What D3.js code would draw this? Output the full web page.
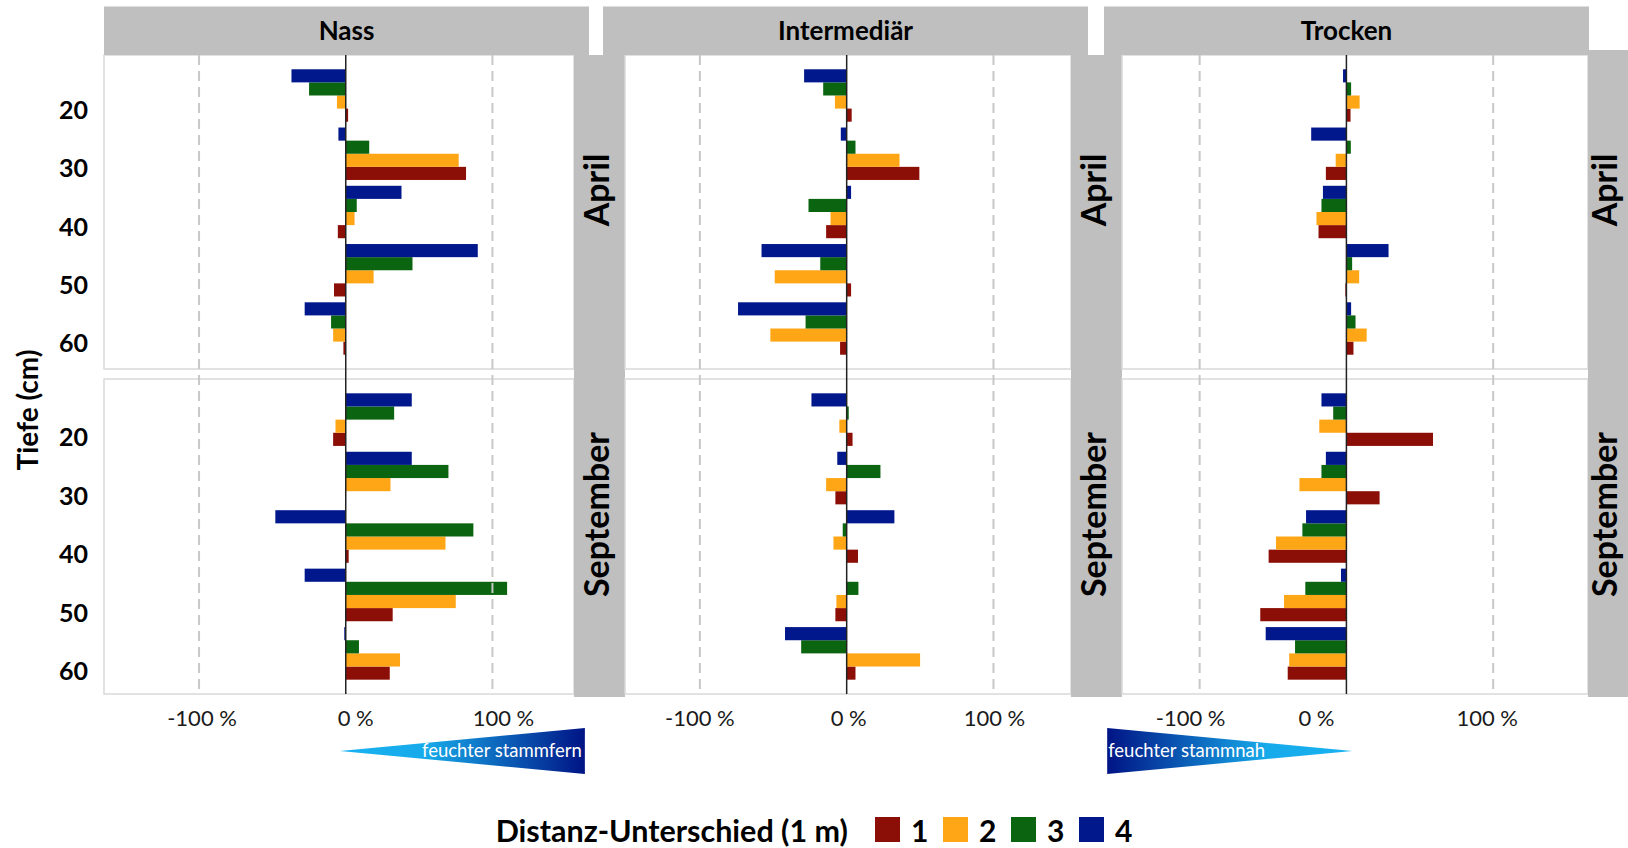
<!DOCTYPE html>
<html>
<head>
<meta charset="utf-8">
<script src="https://cdn.jsdelivr.net/npm/d3@7"></script>
<style>
  body { margin: 0; background: #fff; }
  text { font-family: Lato, "Open Sans", sans-serif; }
</style>
</head>
<body>
<div id="chart"></div>
<script>
// categories
var sites = ["Nass", "Intermediär", "Trocken"];
var months = ["April", "September"];
var distances = [1, 2, 3, 4];
var depths = [17.5, 27.5, 37.5, 47.5, 57.5];   // middle of each depth group (cm)
var depthTicks = [20, 30, 40, 50, 60];
var xTicks = [-100, 0, 100];

// values in %, one row per depth group, columns = distance 1..4
var nassApril = [
  [1.6, -6, -25, -37],
  [82, 77, 16, -5],
  [-5.4, 6, 7.5, 38],
  [-8, 19, 45.5, 90],
  [-1.6, -8.6, -10, -28]
];
var nassSeptember = [
  [-8.6, -7, 33, 45],
  [0, 30.5, 70, 45],
  [2, 68, 87, -48],
  [32, 75, 110, -28],
  [30, 37, 9, -1]
];
var intermApril = [
  [3.4, -8, -16, -29],
  [49.5, 36, 6, -4],
  [-14, -11, -26, 3],
  [3, -49, -18, -58],
  [-4.5, -52, -28, -74]
];
var intermSeptember = [
  [4, -5, 1.4, -24],
  [-7.7, -14, 23, -6.4],
  [7.7, -9, -2.7, 32.5],
  [-7.7, -7, 8, 0],
  [6, 50, -31, -42]
];
var trockenApril = [
  [2.8, 9, 3.2, -2.3],
  [-14, -7.3, 3, -24],
  [-19, -20.4, -17, -16],
  [-0.7, 8.7, 3.9, 28.7],
  [4.8, 13.8, 6.2, 3.2]
];
var trockenSeptember = [
  [59, -18.5, -9, -17],
  [22.6, -32, -17, -14],
  [-53, -48, -30, -27.5],
  [-58.7, -42.5, -28, -3.7],
  [-40, -39, -35, -55]
];

var values = [
  [nassApril, nassSeptember],
  [intermApril, intermSeptember],
  [trockenApril, trockenSeptember]
];

// layout
var W = 1628, H = 848;
var panelX = [[104, 574], [625, 1071], [1122, 1588]];
var xDomains = [[-164.8, 155.6], [-151, 152.8], [-152.9, 164.6]];
var rowY = [[55, 369], [379, 694]];
var depthDomain = [10.55, 64.45];
var headerX = [[104, 589], [603, 1088], [1104, 1589]];
var stripX = [[574, 625], [1071, 1122], [1588, 1628]];
var stripTop = [55, 55, 50];
var tickShift = [[3, 10, 11], [0, 2, 1], [-9, -30, -6]];  // x label nudges per panel
var rowLabelShift = [0, 3];
var grey = "#bfbfbf";

var color = d3.scaleOrdinal()
  .domain(distances)
  .range(["#8b0f06", "#ffa617", "#0b640f", "#00188c"]);

// bars inside a depth group: 4 on top, 1 at the bottom, 9 cm in total
var inner = d3.scaleBand()
  .domain([4, 3, 2, 1])
  .range([-4.5, 4.5]);

var svg = d3.select("#chart")
  .append("svg")
    .attr("width", W)
    .attr("height", H)
    .style("display", "block");

svg.append("rect").attr("width", W).attr("height", H).attr("fill", "#fff");

var defs = svg.append("defs");

sites.forEach(function(site, i) {
  var x = d3.scaleLinear().domain(xDomains[i]).range(panelX[i]);
  var g = svg.append("g").attr("class", "panel");

  months.forEach(function(month, j) {
    var y = d3.scaleLinear().domain(depthDomain).range(rowY[j]);

    g.append("rect")
      .attr("x", panelX[i][0])
      .attr("y", rowY[j][0])
      .attr("width", panelX[i][1] - panelX[i][0])
      .attr("height", rowY[j][1] - rowY[j][0])
      .attr("fill", "#fff")
      .attr("stroke", "#d9d9d9")
      .attr("stroke-width", 1.5);

    // flatten rows into bar records
    var bars = [];
    values[i][j].forEach(function(row, k) {
      row.forEach(function(v, m) {
        bars.push({depth: depths[k], dist: distances[m], value: v});
      });
    });

    g.selectAll("rect.bar-" + j)
      .data(bars)
      .enter().append("rect")
        .attr("class", "bar-" + j)
        .attr("x", function(d) { return x(Math.min(0, d.value)); })
        .attr("width", function(d) { return Math.abs(x(d.value) - x(0)); })
        .attr("y", function(d) { return y(d.depth + inner(d.dist)); })
        .attr("height", function(d) { return y(d.depth + inner(d.dist) + inner.bandwidth()) - y(d.depth + inner(d.dist)); })
        .attr("fill", function(d) { return color(d.dist); });
  });

  // dashed grid at +-100 %, solid line at 0
  g.selectAll("line.grid")
    .data(xTicks.filter(function(t) { return t !== 0; }))
    .enter().append("line")
      .attr("class", "grid")
      .attr("x1", function(d) { return x(d); })
      .attr("x2", function(d) { return x(d); })
      .attr("y1", rowY[0][0])
      .attr("y2", rowY[1][1])
      .attr("stroke", "#c8c8c8")
      .attr("stroke-width", 2)
      .attr("stroke-dasharray", "10,6");

  g.append("line")
    .attr("x1", x(0)).attr("x2", x(0))
    .attr("y1", rowY[0][0]).attr("y2", rowY[1][1])
    .attr("stroke", "#222")
    .attr("stroke-width", 1.5);

  g.selectAll("text.xtick")
    .data(xTicks)
    .enter().append("text")
      .attr("class", "xtick")
      .attr("x", function(d, k) { return x(d) + tickShift[i][k]; })
      .attr("y", 726)
      .attr("text-anchor", "middle")
      .attr("font-size", "22px")
      .attr("fill", "#1a1a1a")
      .text(function(d) { return d + " %"; });

  // right strip with month names
  svg.append("rect")
    .attr("x", stripX[i][0])
    .attr("y", stripTop[i])
    .attr("width", stripX[i][1] - stripX[i][0])
    .attr("height", 697 - stripTop[i])
    .attr("fill", grey);

  months.forEach(function(month, j) {
    var cx = (stripX[i][0] + stripX[i][1]) / 2 - 3,
        cy = (rowY[j][0] + rowY[j][1]) / 2 - 22;
    svg.append("text")
      .attr("transform", "translate(" + (cx + 12) + "," + cy + ") rotate(-90)")
      .attr("text-anchor", "middle")
      .attr("font-size", "34px")
      .attr("font-weight", "bold")
      .attr("fill", "#000")
      .text(month);
  });

  // header
  svg.append("rect")
    .attr("x", headerX[i][0])
    .attr("y", 6.5)
    .attr("width", headerX[i][1] - headerX[i][0])
    .attr("height", 55 - 6.5)
    .attr("fill", grey);

  svg.append("text")
    .attr("x", (headerX[i][0] + headerX[i][1]) / 2)
    .attr("y", 40)
    .attr("text-anchor", "middle")
    .attr("font-size", "26px")
    .attr("font-weight", "bold")
    .attr("fill", "#000")
    .text(site);
});

// depth axis labels
months.forEach(function(month, j) {
  var y = d3.scaleLinear().domain(depthDomain).range(rowY[j]);
  svg.selectAll("text.ytick-" + j)
    .data(depthTicks)
    .enter().append("text")
      .attr("class", "ytick-" + j)
      .attr("x", 88)
      .attr("y", function(d) { return y(d) + rowLabelShift[j]; })
      .attr("dy", "0.36em")
      .attr("text-anchor", "end")
      .attr("font-size", "25px")
      .attr("font-weight", "bold")
      .attr("fill", "#000")
      .text(function(d) { return d; });
});

svg.append("text")
  .attr("transform", "translate(38,410) rotate(-90)")
  .attr("text-anchor", "middle")
  .attr("font-size", "28px")
  .attr("font-weight", "bold")
  .attr("fill", "#000")
  .text("Tiefe (cm)");

// direction arrows under the axes
var arrows = [
  {site: 0, wide: 163, tip: -4, label: "feuchter stammfern"},
  {site: 2, wide: -163, tip: 4, label: "feuchter stammnah"}
];
var arrowY = 751, arrowHalf = 23;

arrows.forEach(function(a, n) {
  var x = d3.scaleLinear().domain(xDomains[a.site]).range(panelX[a.site]);
  var grad = defs.append("linearGradient")
    .attr("id", "arrow-grad-" + n)
    .attr("gradientUnits", "userSpaceOnUse")
    .attr("x1", x(a.tip)).attr("x2", x(a.wide))
    .attr("y1", 0).attr("y2", 0);
  grad.append("stop").attr("offset", "0%").attr("stop-color", "#18b2f2");
  grad.append("stop").attr("offset", "35%").attr("stop-color", "#17aaea");
  grad.append("stop").attr("offset", "100%").attr("stop-color", "#001485");

  var pts = [[x(a.wide), arrowY - arrowHalf], [x(a.wide), arrowY + arrowHalf], [x(a.tip), arrowY]];
  svg.append("path")
    .attr("d", d3.line()(pts) + "Z")
    .attr("fill", "url(#arrow-grad-" + n + ")");

  var right = a.wide > a.tip;
  svg.append("text")
    .attr("x", x(a.wide) + (right ? -3 : 1))
    .attr("y", arrowY + 6)
    .attr("text-anchor", right ? "end" : "start")
    .attr("font-size", "18.5px")
    .attr("fill", "#fff")
    .text(a.label);
});

// legend
var legendY = 842;
svg.append("text")
  .attr("x", 848)
  .attr("y", legendY)
  .attr("text-anchor", "end")
  .attr("font-size", "30.5px")
  .attr("font-weight", "bold")
  .attr("fill", "#000")
  .text("Distanz-Unterschied (1 m)");

var lg = svg.selectAll("g.legend")
  .data(distances)
  .enter().append("g")
    .attr("class", "legend")
    .attr("transform", function(d, k) { return "translate(" + (875 + k * 68) + ",0)"; });

lg.append("rect")
  .attr("y", 817)
  .attr("width", 25)
  .attr("height", 25)
  .attr("fill", function(d) { return color(d); });

lg.append("text")
  .attr("x", 36)
  .attr("y", legendY)
  .attr("font-size", "30px")
  .attr("font-weight", "bold")
  .attr("fill", "#000")
  .text(function(d) { return d; });
</script>
</body>
</html>
